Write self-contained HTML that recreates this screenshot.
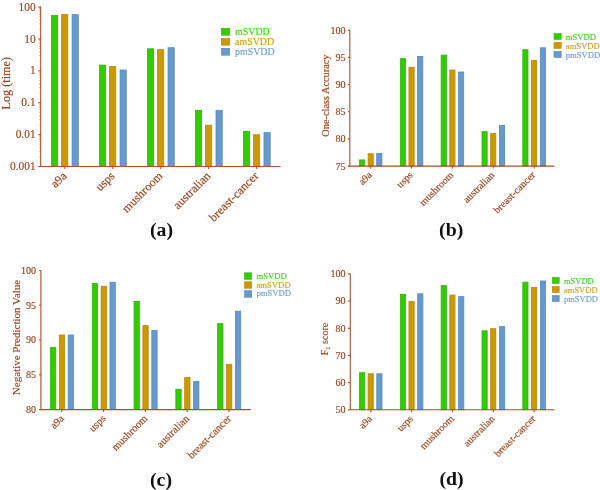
<!DOCTYPE html>
<html><head><meta charset="utf-8"><title>Figure</title>
<style>
html,body{margin:0;padding:0;background:#fff;}
svg{display:block;filter:blur(0.35px);font-family:"Liberation Serif",serif;}
text{stroke-width:0.15px;}
</style></head><body>
<svg width="600" height="490" viewBox="0 0 600 490">
<rect width="600" height="490" fill="#fff"/>
<rect x="51.50" y="15.50" width="6.20" height="151.00" fill="#33CC00" stroke="#2DB80A" stroke-width="0.8"/>
<rect x="61.60" y="14.50" width="6.20" height="152.00" fill="#CC9900" stroke="#BF8408" stroke-width="0.8"/>
<rect x="72.10" y="14.65" width="6.20" height="151.85" fill="#6699CC" stroke="#5588C0" stroke-width="0.8"/>
<rect x="99.47" y="65.10" width="6.20" height="101.40" fill="#33CC00" stroke="#2DB80A" stroke-width="0.8"/>
<rect x="109.57" y="66.60" width="6.20" height="99.90" fill="#CC9900" stroke="#BF8408" stroke-width="0.8"/>
<rect x="120.07" y="70.05" width="6.20" height="96.45" fill="#6699CC" stroke="#5588C0" stroke-width="0.8"/>
<rect x="147.44" y="48.80" width="6.20" height="117.70" fill="#33CC00" stroke="#2DB80A" stroke-width="0.8"/>
<rect x="157.54" y="49.70" width="6.20" height="116.80" fill="#CC9900" stroke="#BF8408" stroke-width="0.8"/>
<rect x="168.04" y="47.70" width="6.20" height="118.80" fill="#6699CC" stroke="#5588C0" stroke-width="0.8"/>
<rect x="195.41" y="110.30" width="6.20" height="56.20" fill="#33CC00" stroke="#2DB80A" stroke-width="0.8"/>
<rect x="205.51" y="125.20" width="6.20" height="41.30" fill="#CC9900" stroke="#BF8408" stroke-width="0.8"/>
<rect x="216.01" y="110.30" width="6.20" height="56.20" fill="#6699CC" stroke="#5588C0" stroke-width="0.8"/>
<rect x="243.38" y="131.30" width="6.20" height="35.20" fill="#33CC00" stroke="#2DB80A" stroke-width="0.8"/>
<rect x="253.48" y="134.80" width="6.20" height="31.70" fill="#CC9900" stroke="#BF8408" stroke-width="0.8"/>
<rect x="263.98" y="132.60" width="6.20" height="33.90" fill="#6699CC" stroke="#5588C0" stroke-width="0.8"/>
<path d="M40.7 6.6V166.5H280.6" fill="none" stroke="#A8502A" stroke-width="1.1"/>
<path d="M38.20 7.10H40.7" stroke="#A8502A" stroke-width="1.1"/>
<text transform="translate(35.6 10.66) scale(0.95 1)" font-size="12.0" text-anchor="end" fill="#9B431B" stroke="#9B431B">100</text>
<path d="M38.20 38.98H40.7" stroke="#A8502A" stroke-width="1.1"/>
<text transform="translate(35.6 42.54) scale(0.95 1)" font-size="12.0" text-anchor="end" fill="#9B431B" stroke="#9B431B">10</text>
<path d="M38.20 70.86H40.7" stroke="#A8502A" stroke-width="1.1"/>
<text transform="translate(35.6 74.42) scale(0.95 1)" font-size="12.0" text-anchor="end" fill="#9B431B" stroke="#9B431B">1</text>
<path d="M38.20 102.74H40.7" stroke="#A8502A" stroke-width="1.1"/>
<text transform="translate(35.6 106.30) scale(0.95 1)" font-size="12.0" text-anchor="end" fill="#9B431B" stroke="#9B431B">0.1</text>
<path d="M38.20 134.62H40.7" stroke="#A8502A" stroke-width="1.1"/>
<text transform="translate(35.6 138.18) scale(0.95 1)" font-size="12.0" text-anchor="end" fill="#9B431B" stroke="#9B431B">0.01</text>
<path d="M38.20 166.50H40.7" stroke="#A8502A" stroke-width="1.1"/>
<text transform="translate(35.6 170.06) scale(0.95 1)" font-size="12.0" text-anchor="end" fill="#9B431B" stroke="#9B431B">0.001</text>
<path d="M39.40 29.38H40.7" stroke="#A8502A" stroke-width="0.7"/>
<path d="M39.40 23.77H40.7" stroke="#A8502A" stroke-width="0.7"/>
<path d="M39.40 19.79H40.7" stroke="#A8502A" stroke-width="0.7"/>
<path d="M39.40 16.70H40.7" stroke="#A8502A" stroke-width="0.7"/>
<path d="M39.40 14.17H40.7" stroke="#A8502A" stroke-width="0.7"/>
<path d="M39.40 12.04H40.7" stroke="#A8502A" stroke-width="0.7"/>
<path d="M39.40 10.19H40.7" stroke="#A8502A" stroke-width="0.7"/>
<path d="M39.40 8.56H40.7" stroke="#A8502A" stroke-width="0.7"/>
<path d="M39.40 61.26H40.7" stroke="#A8502A" stroke-width="0.7"/>
<path d="M39.40 55.65H40.7" stroke="#A8502A" stroke-width="0.7"/>
<path d="M39.40 51.67H40.7" stroke="#A8502A" stroke-width="0.7"/>
<path d="M39.40 48.58H40.7" stroke="#A8502A" stroke-width="0.7"/>
<path d="M39.40 46.05H40.7" stroke="#A8502A" stroke-width="0.7"/>
<path d="M39.40 43.92H40.7" stroke="#A8502A" stroke-width="0.7"/>
<path d="M39.40 42.07H40.7" stroke="#A8502A" stroke-width="0.7"/>
<path d="M39.40 40.44H40.7" stroke="#A8502A" stroke-width="0.7"/>
<path d="M39.40 93.14H40.7" stroke="#A8502A" stroke-width="0.7"/>
<path d="M39.40 87.53H40.7" stroke="#A8502A" stroke-width="0.7"/>
<path d="M39.40 83.55H40.7" stroke="#A8502A" stroke-width="0.7"/>
<path d="M39.40 80.46H40.7" stroke="#A8502A" stroke-width="0.7"/>
<path d="M39.40 77.93H40.7" stroke="#A8502A" stroke-width="0.7"/>
<path d="M39.40 75.80H40.7" stroke="#A8502A" stroke-width="0.7"/>
<path d="M39.40 73.95H40.7" stroke="#A8502A" stroke-width="0.7"/>
<path d="M39.40 72.32H40.7" stroke="#A8502A" stroke-width="0.7"/>
<path d="M39.40 125.02H40.7" stroke="#A8502A" stroke-width="0.7"/>
<path d="M39.40 119.41H40.7" stroke="#A8502A" stroke-width="0.7"/>
<path d="M39.40 115.43H40.7" stroke="#A8502A" stroke-width="0.7"/>
<path d="M39.40 112.34H40.7" stroke="#A8502A" stroke-width="0.7"/>
<path d="M39.40 109.81H40.7" stroke="#A8502A" stroke-width="0.7"/>
<path d="M39.40 107.68H40.7" stroke="#A8502A" stroke-width="0.7"/>
<path d="M39.40 105.83H40.7" stroke="#A8502A" stroke-width="0.7"/>
<path d="M39.40 104.20H40.7" stroke="#A8502A" stroke-width="0.7"/>
<path d="M39.40 156.90H40.7" stroke="#A8502A" stroke-width="0.7"/>
<path d="M39.40 151.29H40.7" stroke="#A8502A" stroke-width="0.7"/>
<path d="M39.40 147.31H40.7" stroke="#A8502A" stroke-width="0.7"/>
<path d="M39.40 144.22H40.7" stroke="#A8502A" stroke-width="0.7"/>
<path d="M39.40 141.69H40.7" stroke="#A8502A" stroke-width="0.7"/>
<path d="M39.40 139.56H40.7" stroke="#A8502A" stroke-width="0.7"/>
<path d="M39.40 137.71H40.7" stroke="#A8502A" stroke-width="0.7"/>
<path d="M39.40 136.08H40.7" stroke="#A8502A" stroke-width="0.7"/>
<path d="M64.90 166.5V168.90" stroke="#A8502A" stroke-width="1.1"/>
<text transform="translate(64.70 173.90) rotate(-45)" font-size="12.1" text-anchor="end" fill="#9B431B" stroke="#9B431B" dy="0.32em">a9a</text>
<path d="M112.85 166.5V168.90" stroke="#A8502A" stroke-width="1.1"/>
<text transform="translate(112.65 173.90) rotate(-45)" font-size="12.1" text-anchor="end" fill="#9B431B" stroke="#9B431B" dy="0.32em">usps</text>
<path d="M160.80 166.5V168.90" stroke="#A8502A" stroke-width="1.1"/>
<text transform="translate(160.60 173.90) rotate(-45)" font-size="12.1" text-anchor="end" fill="#9B431B" stroke="#9B431B" dy="0.32em">mushroom</text>
<path d="M208.75 166.5V168.90" stroke="#A8502A" stroke-width="1.1"/>
<text transform="translate(208.55 173.90) rotate(-45)" font-size="12.1" text-anchor="end" fill="#9B431B" stroke="#9B431B" dy="0.32em">australian</text>
<path d="M256.70 166.5V168.90" stroke="#A8502A" stroke-width="1.1"/>
<text transform="translate(256.50 173.90) rotate(-45)" font-size="12.1" text-anchor="end" fill="#9B431B" stroke="#9B431B" dy="0.32em">breast-cancer</text>
<text transform="translate(10.3 83.2) rotate(-90)" font-size="12.2" text-anchor="middle" fill="#9B431B" stroke="#9B431B">Log (time)</text>
<rect x="221.30" y="28.30" width="8.40" height="6.90" fill="#33CC00" stroke="#2DB80A" stroke-width="0.6"/>
<text x="235.1" y="35.20" font-size="9.9" text-anchor="start" fill="#3FD21A" stroke="#3FD21A" >mSVDD</text>
<rect x="221.30" y="38.30" width="8.40" height="6.90" fill="#CC9900" stroke="#BF8408" stroke-width="0.6"/>
<text x="235.1" y="45.20" font-size="9.9" text-anchor="start" fill="#D1A11F" stroke="#D1A11F" >amSVDD</text>
<rect x="221.30" y="48.30" width="8.40" height="6.90" fill="#6699CC" stroke="#5588C0" stroke-width="0.6"/>
<text x="235.1" y="55.20" font-size="9.9" text-anchor="start" fill="#6F9FD0" stroke="#6F9FD0" >pmSVDD</text>
<text x="161.5" y="236" font-size="19.8" font-weight="bold" text-anchor="middle" fill="#111">(a)</text>
<rect x="359.50" y="159.90" width="5.20" height="6.20" fill="#33CC00" stroke="#2DB80A" stroke-width="0.8"/>
<rect x="368.10" y="153.70" width="5.20" height="12.40" fill="#CC9900" stroke="#BF8408" stroke-width="0.8"/>
<rect x="376.70" y="153.50" width="5.20" height="12.60" fill="#6699CC" stroke="#5588C0" stroke-width="0.8"/>
<rect x="400.33" y="58.60" width="5.20" height="107.50" fill="#33CC00" stroke="#2DB80A" stroke-width="0.8"/>
<rect x="408.95" y="67.20" width="5.20" height="98.90" fill="#CC9900" stroke="#BF8408" stroke-width="0.8"/>
<rect x="417.60" y="56.40" width="5.20" height="109.70" fill="#6699CC" stroke="#5588C0" stroke-width="0.8"/>
<rect x="441.16" y="55.10" width="5.20" height="111.00" fill="#33CC00" stroke="#2DB80A" stroke-width="0.8"/>
<rect x="449.80" y="70.05" width="5.20" height="96.05" fill="#CC9900" stroke="#BF8408" stroke-width="0.8"/>
<rect x="458.50" y="72.00" width="5.20" height="94.10" fill="#6699CC" stroke="#5588C0" stroke-width="0.8"/>
<rect x="481.99" y="131.60" width="5.20" height="34.50" fill="#33CC00" stroke="#2DB80A" stroke-width="0.8"/>
<rect x="490.65" y="133.50" width="5.20" height="32.60" fill="#CC9900" stroke="#BF8408" stroke-width="0.8"/>
<rect x="499.40" y="125.30" width="5.20" height="40.80" fill="#6699CC" stroke="#5588C0" stroke-width="0.8"/>
<rect x="522.82" y="49.70" width="5.20" height="116.40" fill="#33CC00" stroke="#2DB80A" stroke-width="0.8"/>
<rect x="531.50" y="60.50" width="5.20" height="105.60" fill="#CC9900" stroke="#BF8408" stroke-width="0.8"/>
<rect x="540.30" y="47.80" width="5.20" height="118.30" fill="#6699CC" stroke="#5588C0" stroke-width="0.8"/>
<path d="M349.8 29.7V166.1H554.5" fill="none" stroke="#A8502A" stroke-width="1.1"/>
<path d="M348.00 30.20H349.8" stroke="#A8502A" stroke-width="1.1"/>
<text transform="translate(345.6 33.63) scale(1 1)" font-size="10.1" text-anchor="end" fill="#9B431B" stroke="#9B431B">100</text>
<path d="M348.00 57.38H349.8" stroke="#A8502A" stroke-width="1.1"/>
<text transform="translate(345.6 60.81) scale(1 1)" font-size="10.1" text-anchor="end" fill="#9B431B" stroke="#9B431B">95</text>
<path d="M348.00 84.56H349.8" stroke="#A8502A" stroke-width="1.1"/>
<text transform="translate(345.6 87.99) scale(1 1)" font-size="10.1" text-anchor="end" fill="#9B431B" stroke="#9B431B">90</text>
<path d="M348.00 111.74H349.8" stroke="#A8502A" stroke-width="1.1"/>
<text transform="translate(345.6 115.17) scale(1 1)" font-size="10.1" text-anchor="end" fill="#9B431B" stroke="#9B431B">85</text>
<path d="M348.00 138.92H349.8" stroke="#A8502A" stroke-width="1.1"/>
<text transform="translate(345.6 142.35) scale(1 1)" font-size="10.1" text-anchor="end" fill="#9B431B" stroke="#9B431B">80</text>
<path d="M348.00 166.10H349.8" stroke="#A8502A" stroke-width="1.1"/>
<text transform="translate(345.6 169.53) scale(1 1)" font-size="10.1" text-anchor="end" fill="#9B431B" stroke="#9B431B">75</text>
<path d="M370.70 166.1V168.50" stroke="#A8502A" stroke-width="1.1"/>
<text transform="translate(370.20 173.30) rotate(-45)" font-size="10.2" text-anchor="end" fill="#9B431B" stroke="#9B431B" dy="0.32em">a9a</text>
<path d="M411.55 166.1V168.50" stroke="#A8502A" stroke-width="1.1"/>
<text transform="translate(411.05 173.30) rotate(-45)" font-size="10.2" text-anchor="end" fill="#9B431B" stroke="#9B431B" dy="0.32em">usps</text>
<path d="M452.40 166.1V168.50" stroke="#A8502A" stroke-width="1.1"/>
<text transform="translate(451.90 173.30) rotate(-45)" font-size="10.2" text-anchor="end" fill="#9B431B" stroke="#9B431B" dy="0.32em">mushroom</text>
<path d="M493.25 166.1V168.50" stroke="#A8502A" stroke-width="1.1"/>
<text transform="translate(492.75 173.30) rotate(-45)" font-size="10.2" text-anchor="end" fill="#9B431B" stroke="#9B431B" dy="0.32em">australian</text>
<path d="M534.10 166.1V168.50" stroke="#A8502A" stroke-width="1.1"/>
<text transform="translate(533.60 173.30) rotate(-45)" font-size="10.2" text-anchor="end" fill="#9B431B" stroke="#9B431B" dy="0.32em">breast-cancer</text>
<text transform="translate(329.3 95.6) rotate(-90)" font-size="10.3" text-anchor="middle" fill="#9B431B" stroke="#9B431B">One-class Accuracy</text>
<rect x="554.00" y="33.50" width="7.20" height="5.90" fill="#33CC00" stroke="#2DB80A" stroke-width="0.6"/>
<text x="565.8" y="39.60" font-size="8.65" text-anchor="start" fill="#3FD21A" stroke="#3FD21A" >mSVDD</text>
<rect x="554.00" y="42.45" width="7.20" height="5.90" fill="#CC9900" stroke="#BF8408" stroke-width="0.6"/>
<text x="565.8" y="48.55" font-size="8.65" text-anchor="start" fill="#D1A11F" stroke="#D1A11F" >amSVDD</text>
<rect x="554.00" y="51.40" width="7.20" height="5.90" fill="#6699CC" stroke="#5588C0" stroke-width="0.6"/>
<text x="565.8" y="57.50" font-size="8.65" text-anchor="start" fill="#6F9FD0" stroke="#6F9FD0" >pmSVDD</text>
<text x="451.2" y="236" font-size="19.8" font-weight="bold" text-anchor="middle" fill="#111">(b)</text>
<rect x="50.50" y="347.30" width="5.30" height="62.30" fill="#33CC00" stroke="#2DB80A" stroke-width="0.8"/>
<rect x="59.30" y="335.00" width="5.30" height="74.60" fill="#CC9900" stroke="#BF8408" stroke-width="0.8"/>
<rect x="68.20" y="335.00" width="5.30" height="74.60" fill="#6699CC" stroke="#5588C0" stroke-width="0.8"/>
<rect x="92.28" y="283.40" width="5.30" height="126.20" fill="#33CC00" stroke="#2DB80A" stroke-width="0.8"/>
<rect x="101.10" y="286.20" width="5.30" height="123.40" fill="#CC9900" stroke="#BF8408" stroke-width="0.8"/>
<rect x="110.00" y="282.30" width="5.30" height="127.30" fill="#6699CC" stroke="#5588C0" stroke-width="0.8"/>
<rect x="134.06" y="301.40" width="5.30" height="108.20" fill="#33CC00" stroke="#2DB80A" stroke-width="0.8"/>
<rect x="142.90" y="325.70" width="5.30" height="83.90" fill="#CC9900" stroke="#BF8408" stroke-width="0.8"/>
<rect x="151.80" y="330.40" width="5.30" height="79.20" fill="#6699CC" stroke="#5588C0" stroke-width="0.8"/>
<rect x="175.84" y="389.20" width="5.30" height="20.40" fill="#33CC00" stroke="#2DB80A" stroke-width="0.8"/>
<rect x="184.70" y="377.50" width="5.30" height="32.10" fill="#CC9900" stroke="#BF8408" stroke-width="0.8"/>
<rect x="193.60" y="381.40" width="5.30" height="28.20" fill="#6699CC" stroke="#5588C0" stroke-width="0.8"/>
<rect x="217.62" y="323.60" width="5.30" height="86.00" fill="#33CC00" stroke="#2DB80A" stroke-width="0.8"/>
<rect x="226.50" y="364.30" width="5.30" height="45.30" fill="#CC9900" stroke="#BF8408" stroke-width="0.8"/>
<rect x="235.40" y="311.20" width="5.30" height="98.40" fill="#6699CC" stroke="#5588C0" stroke-width="0.8"/>
<path d="M40.9 270.0V409.6H250.8" fill="none" stroke="#A8502A" stroke-width="1.1"/>
<path d="M39.10 270.50H40.9" stroke="#A8502A" stroke-width="1.1"/>
<text transform="translate(36.1 273.80) scale(1 1)" font-size="10" text-anchor="end" fill="#9B431B" stroke="#9B431B">100</text>
<path d="M39.10 305.27H40.9" stroke="#A8502A" stroke-width="1.1"/>
<text transform="translate(36.1 308.57) scale(1 1)" font-size="10" text-anchor="end" fill="#9B431B" stroke="#9B431B">95</text>
<path d="M39.10 340.05H40.9" stroke="#A8502A" stroke-width="1.1"/>
<text transform="translate(36.1 343.35) scale(1 1)" font-size="10" text-anchor="end" fill="#9B431B" stroke="#9B431B">90</text>
<path d="M39.10 374.83H40.9" stroke="#A8502A" stroke-width="1.1"/>
<text transform="translate(36.1 378.13) scale(1 1)" font-size="10" text-anchor="end" fill="#9B431B" stroke="#9B431B">85</text>
<path d="M39.10 409.60H40.9" stroke="#A8502A" stroke-width="1.1"/>
<text transform="translate(36.1 412.90) scale(1 1)" font-size="10" text-anchor="end" fill="#9B431B" stroke="#9B431B">80</text>
<path d="M61.80 409.6V412.00" stroke="#A8502A" stroke-width="1.1"/>
<text transform="translate(62.20 416.70) rotate(-45)" font-size="10.65" text-anchor="end" fill="#9B431B" stroke="#9B431B" dy="0.32em">a9a</text>
<path d="M103.58 409.6V412.00" stroke="#A8502A" stroke-width="1.1"/>
<text transform="translate(103.98 416.70) rotate(-45)" font-size="10.65" text-anchor="end" fill="#9B431B" stroke="#9B431B" dy="0.32em">usps</text>
<path d="M145.36 409.6V412.00" stroke="#A8502A" stroke-width="1.1"/>
<text transform="translate(145.76 416.70) rotate(-45)" font-size="10.65" text-anchor="end" fill="#9B431B" stroke="#9B431B" dy="0.32em">mushroom</text>
<path d="M187.14 409.6V412.00" stroke="#A8502A" stroke-width="1.1"/>
<text transform="translate(187.54 416.70) rotate(-45)" font-size="10.65" text-anchor="end" fill="#9B431B" stroke="#9B431B" dy="0.32em">australian</text>
<path d="M228.92 409.6V412.00" stroke="#A8502A" stroke-width="1.1"/>
<text transform="translate(229.32 416.70) rotate(-45)" font-size="10.65" text-anchor="end" fill="#9B431B" stroke="#9B431B" dy="0.32em">breast-cancer</text>
<text transform="translate(20.3 337.5) rotate(-90)" font-size="11.0" text-anchor="middle" fill="#9B431B" stroke="#9B431B">Negative Prediction Value</text>
<rect x="244.50" y="272.80" width="7.20" height="6.50" fill="#33CC00" stroke="#2DB80A" stroke-width="0.6"/>
<text x="256.4" y="279.00" font-size="8.7" text-anchor="start" fill="#3FD21A" stroke="#3FD21A" >mSVDD</text>
<rect x="244.50" y="281.75" width="7.20" height="6.50" fill="#CC9900" stroke="#BF8408" stroke-width="0.6"/>
<text x="256.4" y="287.70" font-size="8.7" text-anchor="start" fill="#D1A11F" stroke="#D1A11F" >amSVDD</text>
<rect x="244.50" y="290.70" width="7.20" height="6.50" fill="#6699CC" stroke="#5588C0" stroke-width="0.6"/>
<text x="256.4" y="296.40" font-size="8.7" text-anchor="start" fill="#6F9FD0" stroke="#6F9FD0" >pmSVDD</text>
<text x="161" y="485.5" font-size="19.8" font-weight="bold" text-anchor="middle" fill="#111">(c)</text>
<rect x="359.50" y="372.70" width="5.20" height="37.10" fill="#33CC00" stroke="#2DB80A" stroke-width="0.8"/>
<rect x="368.10" y="373.80" width="5.20" height="36.00" fill="#CC9900" stroke="#BF8408" stroke-width="0.8"/>
<rect x="376.80" y="373.80" width="5.20" height="36.00" fill="#6699CC" stroke="#5588C0" stroke-width="0.8"/>
<rect x="400.33" y="294.20" width="5.20" height="115.60" fill="#33CC00" stroke="#2DB80A" stroke-width="0.8"/>
<rect x="408.95" y="301.60" width="5.20" height="108.20" fill="#CC9900" stroke="#BF8408" stroke-width="0.8"/>
<rect x="417.70" y="293.80" width="5.20" height="116.00" fill="#6699CC" stroke="#5588C0" stroke-width="0.8"/>
<rect x="441.16" y="285.60" width="5.20" height="124.20" fill="#33CC00" stroke="#2DB80A" stroke-width="0.8"/>
<rect x="449.80" y="295.10" width="5.20" height="114.70" fill="#CC9900" stroke="#BF8408" stroke-width="0.8"/>
<rect x="458.60" y="296.60" width="5.20" height="113.20" fill="#6699CC" stroke="#5588C0" stroke-width="0.8"/>
<rect x="481.99" y="330.80" width="5.20" height="79.00" fill="#33CC00" stroke="#2DB80A" stroke-width="0.8"/>
<rect x="490.65" y="328.70" width="5.20" height="81.10" fill="#CC9900" stroke="#BF8408" stroke-width="0.8"/>
<rect x="499.50" y="326.70" width="5.20" height="83.10" fill="#6699CC" stroke="#5588C0" stroke-width="0.8"/>
<rect x="522.82" y="282.10" width="5.20" height="127.70" fill="#33CC00" stroke="#2DB80A" stroke-width="0.8"/>
<rect x="531.50" y="287.50" width="5.20" height="122.30" fill="#CC9900" stroke="#BF8408" stroke-width="0.8"/>
<rect x="540.40" y="281.00" width="5.20" height="128.80" fill="#6699CC" stroke="#5588C0" stroke-width="0.8"/>
<path d="M350.3 273.4V409.8H554.5" fill="none" stroke="#A8502A" stroke-width="1.1"/>
<path d="M348.00 273.90H350.3" stroke="#A8502A" stroke-width="1.1"/>
<text transform="translate(345.6 277.20) scale(1 1)" font-size="10.0" text-anchor="end" fill="#9B431B" stroke="#9B431B">100</text>
<path d="M348.00 301.08H350.3" stroke="#A8502A" stroke-width="1.1"/>
<text transform="translate(345.6 304.38) scale(1 1)" font-size="10.0" text-anchor="end" fill="#9B431B" stroke="#9B431B">90</text>
<path d="M348.00 328.26H350.3" stroke="#A8502A" stroke-width="1.1"/>
<text transform="translate(345.6 331.56) scale(1 1)" font-size="10.0" text-anchor="end" fill="#9B431B" stroke="#9B431B">80</text>
<path d="M348.00 355.44H350.3" stroke="#A8502A" stroke-width="1.1"/>
<text transform="translate(345.6 358.74) scale(1 1)" font-size="10.0" text-anchor="end" fill="#9B431B" stroke="#9B431B">70</text>
<path d="M348.00 382.62H350.3" stroke="#A8502A" stroke-width="1.1"/>
<text transform="translate(345.6 385.92) scale(1 1)" font-size="10.0" text-anchor="end" fill="#9B431B" stroke="#9B431B">60</text>
<path d="M348.00 409.80H350.3" stroke="#A8502A" stroke-width="1.1"/>
<text transform="translate(345.6 413.10) scale(1 1)" font-size="10.0" text-anchor="end" fill="#9B431B" stroke="#9B431B">50</text>
<path d="M370.80 409.8V412.20" stroke="#A8502A" stroke-width="1.1"/>
<text transform="translate(370.50 417.10) rotate(-45)" font-size="10.1" text-anchor="end" fill="#9B431B" stroke="#9B431B" dy="0.32em">a9a</text>
<path d="M411.65 409.8V412.20" stroke="#A8502A" stroke-width="1.1"/>
<text transform="translate(411.35 417.10) rotate(-45)" font-size="10.1" text-anchor="end" fill="#9B431B" stroke="#9B431B" dy="0.32em">usps</text>
<path d="M452.50 409.8V412.20" stroke="#A8502A" stroke-width="1.1"/>
<text transform="translate(452.20 417.10) rotate(-45)" font-size="10.1" text-anchor="end" fill="#9B431B" stroke="#9B431B" dy="0.32em">mushroom</text>
<path d="M493.35 409.8V412.20" stroke="#A8502A" stroke-width="1.1"/>
<text transform="translate(493.05 417.10) rotate(-45)" font-size="10.1" text-anchor="end" fill="#9B431B" stroke="#9B431B" dy="0.32em">australian</text>
<path d="M534.20 409.8V412.20" stroke="#A8502A" stroke-width="1.1"/>
<text transform="translate(533.90 417.10) rotate(-45)" font-size="10.1" text-anchor="end" fill="#9B431B" stroke="#9B431B" dy="0.32em">breast-cancer</text>
<text transform="translate(328.0 339) rotate(-90)" font-size="10" text-anchor="middle" fill="#9B431B" stroke="#9B431B">F<tspan font-size="6.5" dy="2">1</tspan><tspan dy="-2"> score</tspan></text>
<rect x="552.30" y="277.50" width="6.90" height="6.00" fill="#33CC00" stroke="#2DB80A" stroke-width="0.6"/>
<text x="564" y="283.80" font-size="8.5" text-anchor="start" fill="#3FD21A" stroke="#3FD21A" >mSVDD</text>
<rect x="552.30" y="286.55" width="6.90" height="6.00" fill="#CC9900" stroke="#BF8408" stroke-width="0.6"/>
<text x="564" y="292.85" font-size="8.5" text-anchor="start" fill="#D1A11F" stroke="#D1A11F" >amSVDD</text>
<rect x="552.30" y="295.60" width="6.90" height="6.00" fill="#6699CC" stroke="#5588C0" stroke-width="0.6"/>
<text x="564" y="301.90" font-size="8.5" text-anchor="start" fill="#6F9FD0" stroke="#6F9FD0" >pmSVDD</text>
<text x="451.5" y="485.3" font-size="19.8" font-weight="bold" text-anchor="middle" fill="#111">(d)</text>
</svg>
</body></html>
